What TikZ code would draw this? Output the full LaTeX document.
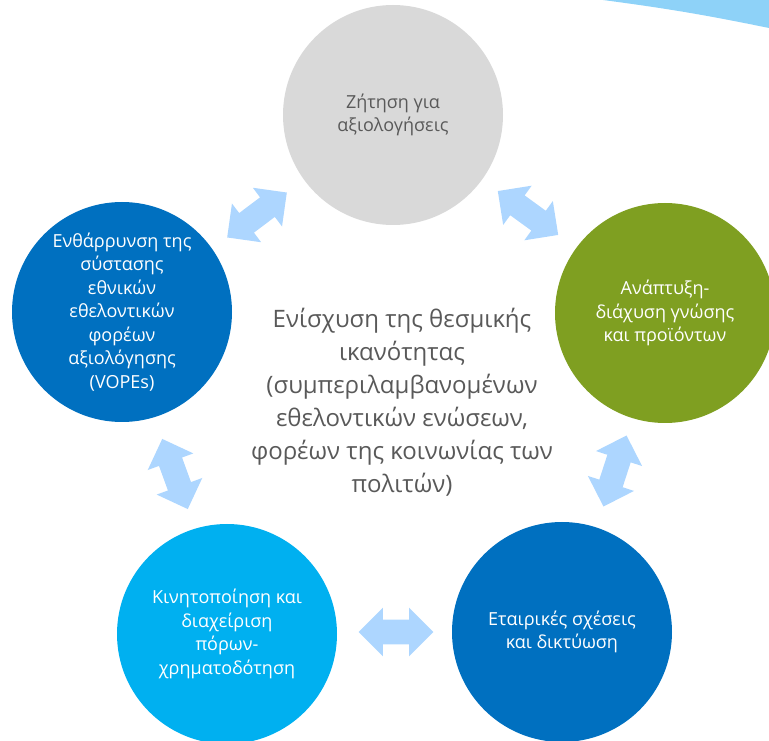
\documentclass[tikz,border=0pt]{standalone}
\usepackage{fontspec}
\setmainfont{Open Sans}
\usetikzlibrary{shapes.arrows,positioning}

\definecolor{softgrey}{HTML}{D9D9D9}
\definecolor{deepblue}{HTML}{0070C0}
\definecolor{olive}{HTML}{7F9F21}
\definecolor{skyblue}{HTML}{00B0F0}
\definecolor{paleblue}{HTML}{ADD6FF}
\definecolor{cornerblue}{HTML}{8ED2F8}
\definecolor{textgrey}{HTML}{595959}

\begin{document}
\begin{tikzpicture}[x=0.75pt,y=-0.75pt,
    bubble/.style={circle, minimum size=165pt, inner sep=0pt, align=center},
    twoway/.style={double arrow, fill=paleblue, inner xsep=0pt, inner ysep=9pt, minimum height=56pt,
                   double arrow head extend=9pt, double arrow tip angle=90}]
  \tikzstyle{every node}=[text=white, font=\fontsize{13.5}{17.6}\selectfont]

  \useasboundingbox (0,0) rectangle (769,741);

  % corner piece top right
  \fill[cornerblue] (603,0) to[bend left=2] (769,28) -- (769,0) -- cycle;

  % the five circles with their texts
  \node[bubble, fill=softgrey, text=textgrey] (demand) at (393,115) {Ζήτηση για\\αξιολογήσεις};
  \node[bubble, fill=deepblue] (vopes) at (122,312)
    {Ενθάρρυνση της\\σύστασης\\εθνικών\\εθελοντικών\\φορέων\\αξιολόγησης\\(VOPEs)};
  \node[bubble, fill=olive]    (know)    at (665,313) {Ανάπτυξη-\\διάχυση γνώσης\\και προϊόντων};
  \node[bubble, fill=skyblue]  (funds)   at (227,634) {Κινητοποίηση και\\διαχείριση\\πόρων-\\χρηματοδότηση};
  \node[bubble, fill=deepblue] (partner) at (562,632) {Εταιρικές σχέσεις\\και δικτύωση};

  % centre text
  \node[text=textgrey, align=center, font=\fontsize{18}{24.75}\selectfont] (core) at (402,402)
    {Ενίσχυση της θεσμικής\\ικανότητας\\(συμπεριλαμβανομένων\\εθελοντικών ενώσεων,\\φορέων της κοινωνίας των\\πολιτών)};

  % arrows between neighbours
  \node[twoway, rotate=37]  (a1) at (257,215) {};
  \node[twoway, rotate=-36] (a2) at (528,213) {};
  \node[twoway, rotate=-70] (a3) at (175,474) {};
  \node[twoway, rotate=72]  (a4) at (615,471) {};
  \node[twoway]             (a5) at (396,632) {};
\end{tikzpicture}
\end{document}
